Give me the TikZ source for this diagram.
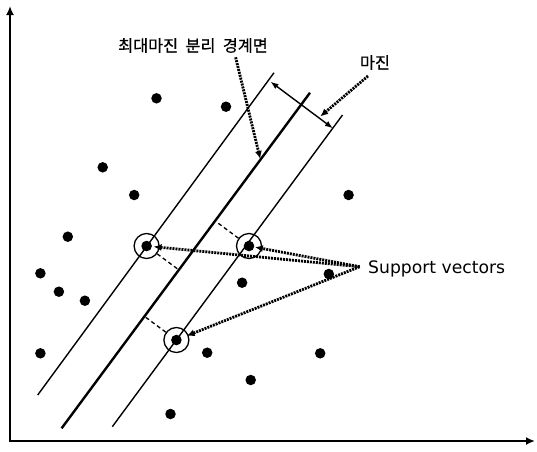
\documentclass[tikz,border=0pt]{standalone}
\usepackage{fontspec}
\setmainfont{DejaVu Sans}
\newfontfamily\kr[FakeBold=0.8]{Noto Sans CJK KR}
\usetikzlibrary{arrows.meta,calc}
\begin{document}
\begin{tikzpicture}[x=1pt,y=-1pt,
  dot/.style={circle,fill=black,inner sep=0pt,minimum size=10.5pt},
  svc/.style={circle,draw=black,line width=1.3pt,inner sep=0pt,minimum size=25pt,
     path picture={\fill[black] (path picture bounding box.center) circle (5.3pt);}},
  axis/.style={line width=2.6pt,-{Latex[length=9pt,width=8pt]}},
  hline/.style={line width=1.4pt},
  mline/.style={line width=2.4pt},
  dotarrow/.style={line width=2.8pt,dash pattern=on 2pt off 1pt,-{Latex[length=8pt,width=7pt]}},
  dashline/.style={line width=1.3pt,dash pattern=on 4pt off 3pt}
]
\useasboundingbox (0,0) rectangle (537,451);
% axes
\coordinate (o) at (10,441);
\coordinate (ytop) at (10,6);
\coordinate (o2) at (8.7,441);
\coordinate (xend) at (535,441);
\draw[axis] (o) -- (ytop);
\draw[axis] (o2) -- (xend);
% lines
\coordinate (l1a) at (37.7,395); \coordinate (l1b) at (274,72.7);
\coordinate (l2a) at (61.6,428.3); \coordinate (l2b) at (310,92.7);
\coordinate (l3a) at (112.3,426.7); \coordinate (l3b) at (342.5,115);
\draw[hline] (l1a) -- (l1b);
\draw[mline] (l2a) -- (l2b);
\draw[hline] (l3a) -- (l3b);
% margin arrow
\coordinate (ma) at (270.5,81.7); \coordinate (mb) at (332.9,128.3);
\draw[line width=1.4pt,{Latex[length=8pt,width=6pt]}-{Latex[length=8pt,width=6pt]}] (ma) -- (mb);
% dots
\foreach \n/\x/\y in {1/156.5/98.3,2/226/106.7,3/102.7/167.3,4/134.2/195,5/348.6/195,6/67.8/236.7,
  7/40.4/273.3,8/328.8/274,9/58.9/291.7,10/84.9/300.7,11/242.1/282.7,12/40.4/353.3,13/207.2/352.7,
  14/320.2/353.3,15/250.7/380,16/170.5/414}
  \node[dot] (d\n) at (\x,\y) {};
% support vectors
\node[svc] (sv1) at (146.6,246) {};
\node[svc] (sv2) at (249,246) {};
\node[svc] (sv3) at (176.4,340) {};
% dashed perpendiculars to the separating line
\coordinate (f1) at ($(l2a)!(sv1)!(l2b)$);
\coordinate (f2) at ($(l2a)!(sv2)!(l2b)$);
\coordinate (f3) at ($(l2a)!(sv3)!(l2b)$);
\draw[dashline] (sv1) -- (f1);
\draw[dashline] (sv2) -- (f2);
\draw[dashline] (sv3) -- (f3);
% labels
\node (kt) at (193,45.5) {\kr\fontsize{16.3}{18}\selectfont 최대마진\hspace{0.45em}분리\hspace{0.45em}경계면};
\node (km) at (375,62.5) {\kr\fontsize{16.3}{18}\selectfont 마진};
\node[anchor=base west,inner sep=0pt] (svl) at (368,273) {\fontsize{17.2}{20}\selectfont Support vectors};
% dotted arrows
\coordinate (kts) at (235.6,57.3);
\coordinate (kte) at (260.3,159);
\draw[dotarrow] (kts) -- (kte);
\coordinate (kms) at (368,76);
\coordinate (kme) at (320.2,116.5);
\draw[dotarrow] (kms) -- (kme);
\coordinate (sp) at (359.6,266.7);
\draw[dotarrow] (sp) -- ($(sv1)!7pt!(sp)$);
\draw[dotarrow] (sp) -- ($(sv2)!6pt!(sp)$);
\draw[dotarrow] (sp) -- ($(sv3)!11pt!(sp)$);
\end{tikzpicture}
\end{document}
